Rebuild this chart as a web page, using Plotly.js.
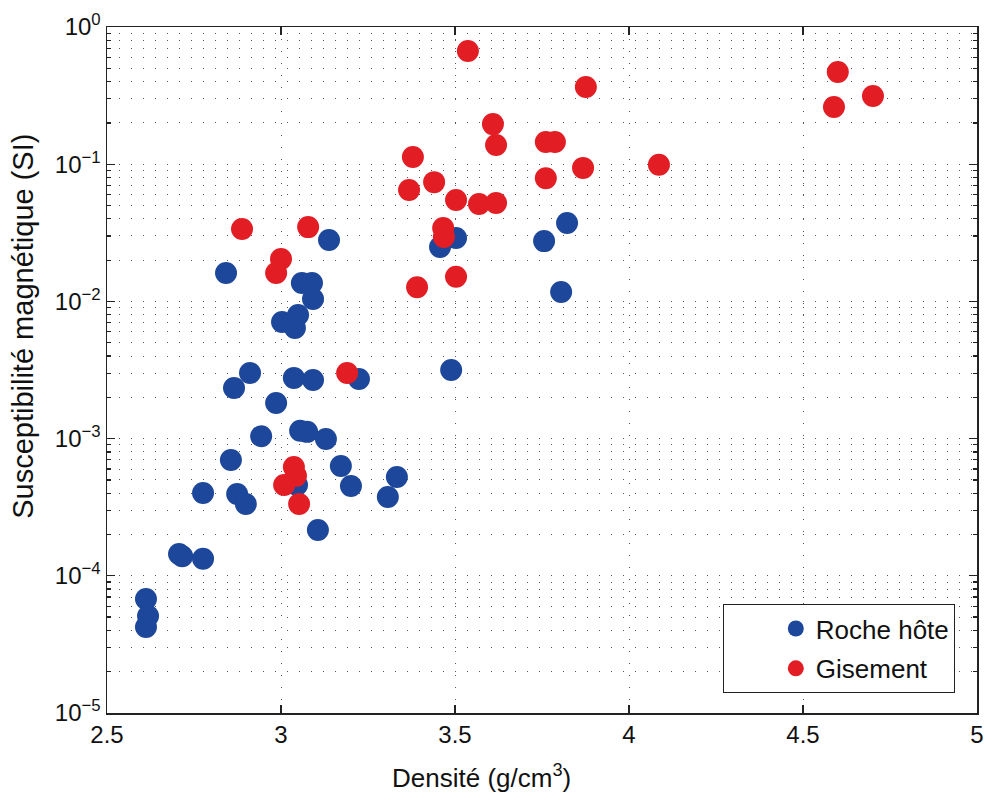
<!DOCTYPE html>
<html>
<head>
<meta charset="utf-8">
<script src="https://cdn.plot.ly/plotly-3.0.1.min.js"></script>
<style>html,body{margin:0;padding:0;background:#fff;}#chart{width:985px;height:794px;}</style>
</head>
<body>
<div id="chart"></div>
<script>
// Roche hôte (host rock)
const rocheDensite = [3.138, 3.457, 3.503, 3.756, 3.822, 3.805, 3.489,
  2.842, 3.060, 3.089, 3.092, 3.003, 3.049, 3.040,
  2.911, 2.865, 3.037, 3.092, 3.224, 2.986, 2.943, 3.055, 3.075, 3.129,
  2.856, 2.776, 2.874, 2.899, 3.172, 3.201, 3.333, 3.307, 3.106, 3.046,
  2.716, 2.707, 2.776, 2.612, 2.618, 2.612];
const rocheSusc = [0.028, 0.0249, 0.029, 0.0275, 0.0373, 0.0117, 0.00316,
  0.0161, 0.0136, 0.0136, 0.0104, 0.00708, 0.00796, 0.0064,
  0.00301, 0.00234, 0.00277, 0.00267, 0.00272, 0.00182, 0.00104, 0.00114, 0.00112, 0.000993,
  0.000698, 0.000401, 0.000395, 0.000334, 0.000631, 0.000452, 0.000525, 0.000375, 0.000216, 0.000459,
  0.000139, 0.000144, 0.000133, 0.0000678, 0.0000509, 0.0000424];

// Gisement (deposit)
const gisDensite = [3.537, 3.876, 4.600, 4.589, 4.701, 3.609, 3.618, 3.761, 3.787,
  3.379, 3.868, 4.086, 3.761, 3.440, 3.368, 3.503, 3.569, 3.618,
  3.466, 3.468, 3.503, 3.391, 2.888, 3.078, 3.000, 2.986, 3.190,
  3.037, 3.043, 3.009, 3.052];
const gisSusc = [0.668, 0.365, 0.47, 0.261, 0.314, 0.196, 0.138, 0.145, 0.145,
  0.113, 0.094, 0.099, 0.079, 0.074, 0.0649, 0.0548, 0.0513, 0.0521,
  0.0343, 0.0295, 0.0151, 0.0127, 0.0337, 0.0348, 0.0204, 0.0161, 0.00301,
  0.000621, 0.000535, 0.000459, 0.000334];

const yTickVals = [1e-5, 1e-4, 1e-3, 1e-2, 1e-1, 1];
const yTickText = ['10<sup>−5</sup>', '10<sup>−4</sup>', '10<sup>−3</sup>', '10<sup>−2</sup>', '10<sup>−1</sup>', '10<sup>0</sup>'];
const xTickVals = [2.5, 3, 3.5, 4, 4.5, 5];
const xTickText = ['2.5', '3', '3.5', '4', '4.5', '5'];
const minorDigits = [2, 3, 4, 5, 6, 7, 8, 9];
const decades = [1e-5, 1e-4, 1e-3, 1e-2, 1e-1];
const yMinorVals = [];
decades.forEach(d => minorDigits.forEach(m => yMinorVals.push(d * m)));

const xTitle = 'Densité (g/cm<sup>3</sup>)';
const yTitle = 'Susceptibilité magnétique (SI)';

const BLUE = '#1d479b';
const RED = '#e31d24';
const FONT = 'Liberation Sans, Arial, Helvetica, sans-serif';
const GRIDDASH = '1px,11px';
const GRIDCOLOR = '#555555';

const traces = [
  {x: rocheDensite, y: rocheSusc, type: 'scatter', mode: 'markers', name: 'Roche hôte',
   legendgroup: 'a', marker: {color: BLUE, size: 22, line: {width: 0}}},
  {x: gisDensite, y: gisSusc, type: 'scatter', mode: 'markers', name: 'Gisement',
   legendgroup: 'b', marker: {color: RED, size: 22, line: {width: 0}}}
];

const layout = {
  width: 985, height: 794,
  margin: {l: 107, r: 8, t: 27, b: 81},
  paper_bgcolor: '#fff', plot_bgcolor: '#fff',
  font: {family: FONT, size: 24, color: '#111'},
  showlegend: true,
  legend: {x: 0.9745, y: 0.029, xanchor: 'right', yanchor: 'bottom',
    bgcolor: '#fff', bordercolor: '#222', borderwidth: 1,
    indentation: 52, tracegroupgap: 3,
    font: {family: FONT, size: 26, color: '#111'}},
  xaxis: {
    range: [2.5, 5], tickmode: 'array', tickvals: xTickVals, ticktext: xTickText,
    ticks: 'inside', ticklen: 8, tickwidth: 1.2, tickcolor: '#222',
    showline: true, linecolor: '#222', linewidth: 1.5, mirror: 'ticks',
    showgrid: true, gridcolor: GRIDCOLOR, gridwidth: 1, griddash: GRIDDASH,
    zeroline: false,
    tickfont: {family: FONT, size: 24, color: '#111'}
  },
  yaxis: {
    type: 'log', range: [-5, 0], tickmode: 'array', tickvals: yTickVals, ticktext: yTickText,
    ticks: 'inside', ticklen: 8, tickwidth: 1.2, tickcolor: '#222',
    showline: true, linecolor: '#222', linewidth: 1.5, mirror: 'ticks',
    showgrid: true, gridcolor: GRIDCOLOR, gridwidth: 1, griddash: GRIDDASH,
    zeroline: false,
    minor: {tickmode: 'array', tickvals: yMinorVals, ticks: 'inside', ticklen: 4, tickcolor: '#222',
      showgrid: true, gridcolor: GRIDCOLOR, gridwidth: 1, griddash: GRIDDASH},
    tickfont: {family: FONT, size: 24, color: '#111'}
  },
  annotations: [
    {text: xTitle, xref: 'paper', yref: 'paper', x: 0.43, y: -0.0925, xanchor: 'center', yanchor: 'middle',
     borderpad: 0, showarrow: false, font: {family: FONT, size: 26, color: '#111'}},
    {text: yTitle, xref: 'paper', yref: 'paper', x: -0.0965, y: 0.563, xanchor: 'center', yanchor: 'middle',
     textangle: -90, showarrow: false, font: {family: FONT, size: 29, color: '#111'}}
  ]
};

Plotly.newPlot('chart', traces, layout, {displayModeBar: false, staticPlot: true});
</script>
</body>
</html>
